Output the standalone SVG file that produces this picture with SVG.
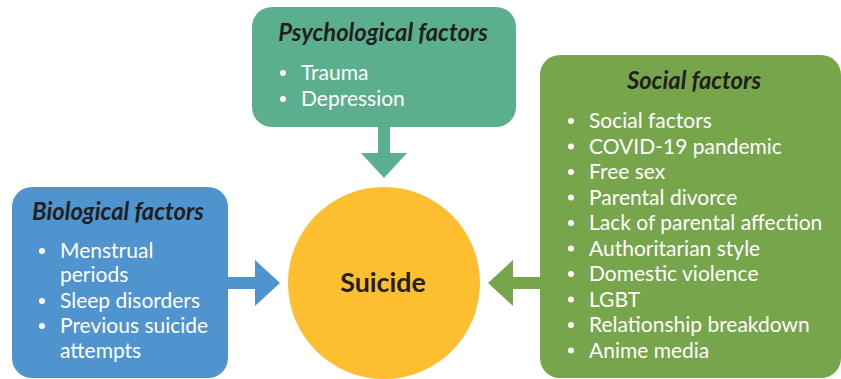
<svg xmlns="http://www.w3.org/2000/svg" width="841" height="379" viewBox="0 0 841 379">
<style>
text{font-family:Lato,"Open Sans","Liberation Sans",sans-serif}
.t{font-weight:bold;font-style:italic;font-size:23.8px;fill:#231f20}
.i{font-size:21px;fill:#ffffff}
.c{font-weight:bold;font-size:26.8px;fill:#231f20}
</style>
<rect width="841" height="379" fill="#ffffff"/>
<g id="connectors">
<path d="M378,127 H390 V153 H407 L384,178 L361,153 H378 Z" fill="#5baf8f"/>
<path d="M228,277 H255 V260 L280,283 L255,306 V289 H228 Z" fill="#4f94cf"/>
<path d="M540,277 H513 V260 L488,283 L513,306 V289 H540 Z" fill="#77a54c"/>
</g>
<g id="psychological">
<rect x="252" y="7" width="264" height="120" rx="20" fill="#5baf8f"/>
<text class="t" x="383" y="41" text-anchor="middle">Psychological factors</text>
<circle cx="283" cy="73" r="3" fill="#fff"/>
<text class="i" x="301" y="80">Trauma</text>
<circle cx="283" cy="99" r="3" fill="#fff"/>
<text class="i" x="301" y="106">Depression</text>
</g>
<g id="biological">
<rect x="12" y="187" width="216" height="191" rx="20" fill="#4f94cf"/>
<text class="t" x="118" y="220" text-anchor="middle">Biological factors</text>
<circle cx="42" cy="251" r="3" fill="#fff"/>
<text class="i" x="60" y="258">Menstrual</text>
<text class="i" x="60" y="282">periods</text>
<circle cx="42" cy="301" r="3" fill="#fff"/>
<text class="i" x="60" y="308">Sleep disorders</text>
<circle cx="42" cy="326" r="3" fill="#fff"/>
<text class="i" x="60" y="333">Previous suicide</text>
<text class="i" x="60" y="358">attempts</text>
</g>
<g id="suicide">
<circle cx="384" cy="283" r="96" fill="#fdbf2f"/>
<text class="c" x="383" y="292" text-anchor="middle">Suicide</text>
</g>
<g id="social">
<rect x="540" y="55" width="301" height="323" rx="20" fill="#77a54c"/>
<text class="t" x="694" y="89" text-anchor="middle">Social factors</text>
<g fill="#fff">
<circle cx="571" cy="121" r="3"/>
<circle cx="571" cy="146.5" r="3"/>
<circle cx="571" cy="172" r="3"/>
<circle cx="571" cy="197.5" r="3"/>
<circle cx="571" cy="223" r="3"/>
<circle cx="571" cy="248.5" r="3"/>
<circle cx="571" cy="274" r="3"/>
<circle cx="571" cy="299.5" r="3"/>
<circle cx="571" cy="325" r="3"/>
<circle cx="571" cy="350.5" r="3"/>
</g>
<text class="i" x="589" y="128">Social factors</text>
<text class="i" x="589" y="153.5">COVID-19 pandemic</text>
<text class="i" x="589" y="179">Free sex</text>
<text class="i" x="589" y="204.5">Parental divorce</text>
<text class="i" x="589" y="230">Lack of parental affection</text>
<text class="i" x="589" y="255.5">Authoritarian style</text>
<text class="i" x="589" y="281">Domestic violence</text>
<text class="i" x="589" y="306.5">LGBT</text>
<text class="i" x="589" y="332">Relationship breakdown</text>
<text class="i" x="589" y="357.5">Anime media</text>
</g>
</svg>
